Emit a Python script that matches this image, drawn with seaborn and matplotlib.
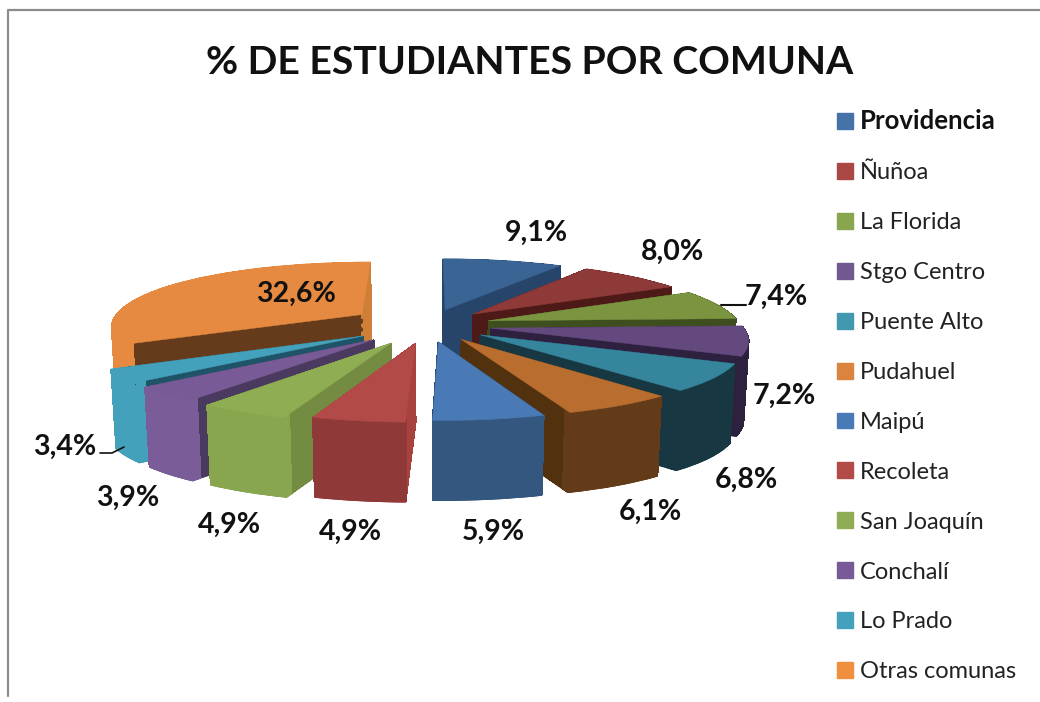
import numpy as np
import matplotlib
matplotlib.use("Agg")
import matplotlib.pyplot as plt
from matplotlib.transforms import Transform
from matplotlib.lines import Line2D
import seaborn as sns

comunas = ["Providencia", "Ñuñoa", "La Florida", "Stgo Centro", "Puente Alto", "Pudahuel",
           "Maipú", "Recoleta", "San Joaquín", "Conchalí", "Lo Prado", "Otras comunas"]
valores = [9.1, 8.0, 7.4, 7.2, 6.8, 6.1, 5.9, 4.9, 4.9, 3.9, 3.4, 32.6]
titulo = "% DE ESTUDIANTES POR COMUNA"

color_cara = ["#3a6494", "#8e3a38", "#7a9440", "#64497f", "#35859c", "#b96e30",
              "#4a7ab5", "#b24a48", "#8fad52", "#775a96", "#44a1bb", "#e58a40"]
color_arco = ["#27456b", "#4e1a17", "#3e4e1f", "#2e2140", "#173842", "#643b19",
              "#34577f", "#8f3a38", "#88a64d", "#7a5c99", "#44a1bb", "#e58a40"]
color_radio = ["#27456b", "#4e1a17", "#3e4e1f", "#2e2140", "#173842", "#52310f",
               "#2a4a70", "#a8423f", "#738c42", "#4b3a60", "#1f5468", "#653b1b"]
color_borde_otras = "#d07f38"
leyenda_color = ["#4572a7", "#aa4643", "#89a54e", "#71588f", "#4198af", "#db843d",
                 "#4a7ab5", "#b24a48", "#8fad52", "#775a96", "#44a1bb", "#f0903f"]
explosion = [0.25, 0.25, 0.25, 0.25, 0.25, 0.25, 0.25, 0.27, 0.30, 0.30, 0.30, 0.315]

etiqueta_x = [536, 673, 776, 784, 746, 650, 493, 350, 229, 128, 65, 296]
etiqueta_y = [233, 252, 297, 396, 480, 512, 532, 532, 525, 498, 447, 294]

CX, CY, RX, RY, P, Q, DZ, K = 428, 325, 252, 65, 0.15, 0.143, 80, 0.016


class Proyeccion(Transform):
    input_dims = output_dims = 2

    def __init__(self, t):
        super().__init__()
        self.t = t

    def transform_non_affine(self, xy):
        xy = np.asarray(xy, float)
        x, y = xy[:, 0], xy[:, 1]
        sx = 1 / (1 + P * y) * (1 - K * self.t)
        return np.column_stack([CX + RX * x * sx,
                                CY - RY * y * (1 - Q * y) + DZ * self.t])


sns.set_theme(style="white")
plt.rcParams["font.family"] = ["Lato", "DejaVu Sans"]

fig = plt.figure(figsize=(10.4, 7.02), dpi=100, facecolor="white")
ax = fig.add_axes([0, 0, 1, 1])


def capa(t, colores, suave=False, **wp):
    w, _ = ax.pie(valores, colors=colores, explode=explosion, startangle=90,
                  counterclock=False, radius=1, wedgeprops=wp)
    for p in w:
        p.set_transform(Proyeccion(t) + ax.transData)
        p.set_edgecolor(p.get_facecolor())
        p.set_antialiased(suave)
    return w


niveles = np.linspace(1, 0.01, 90)
for n, t in enumerate(niveles):
    capa(t, color_radio, suave=(n == 0), linewidth=0.6)
    capa(t, color_arco, suave=(n == 0), width=0.04, linewidth=0.6)
    borde = capa(t, [color_borde_otras] * len(valores), linewidth=0.6)
    for i, p in enumerate(borde):
        if i == len(borde) - 1:
            p.set_theta2(p.theta1 + 4)
        else:
            p.set_visible(False)
capa(0, color_cara, suave=True, linewidth=0.3)

ax.set_aspect("auto")
ax.set_xlim(0, 1040)
ax.set_ylim(702, 0)
ax.axis("off")

for v, x, y in zip(valores, etiqueta_x, etiqueta_y):
    ax.text(x, y, f"{v:.1f}".replace(".", ",") + "%", ha="center", va="center",
            fontsize=20.5, fontweight="bold", color="#111111")

ax.add_line(Line2D([721, 746], [305, 305], color="#111111", lw=1.5))
ax.add_line(Line2D([100, 112, 124], [453, 453, 447], color="#111111", lw=1.2))

ax.text(530, 62, titulo, ha="center", va="center", fontsize=28.3, fontweight="bold",
        color="#111111")

handles = [plt.Rectangle((0, 0), 1, 1, color=c) for c in leyenda_color]
leg = ax.legend(handles, comunas, loc="upper left", bbox_to_anchor=(816 / 1040, 1 - 88 / 702),
                frameon=False, fontsize=17, handlelength=0.66, handleheight=0.66,
                handletextpad=0.3, labelspacing=1.225, labelcolor="#222222")
leg.get_texts()[0].set_fontweight("bold")
leg.get_texts()[0].set_fontsize(18.5)
leg.get_texts()[0].set_color("#111111")

ax.add_line(Line2D([7.5, 7.5, 1040], [696, 9.5, 9.5], color="#8c8c8c", lw=1.6))

fig.savefig("out.png", dpi=100, facecolor="white")
